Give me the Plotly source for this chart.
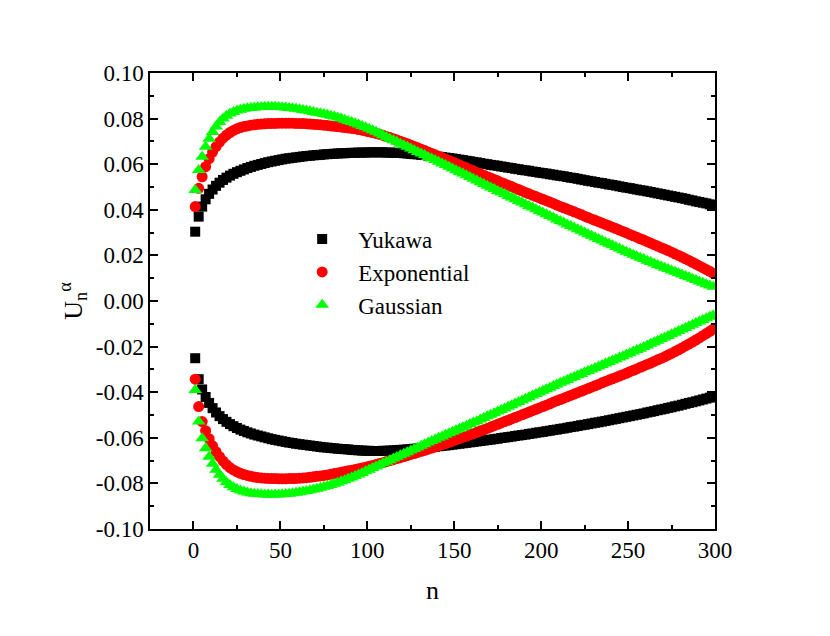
import plotly.graph_objects as go

# n values (every second site)
N = list(range(1, 300, 2))

# Upper branches
YUKAWA_UP = [
    .0304, .0370, .0414, .0446, .0470, .0489, .0505, .0519, .0531, .0541,
    .0550, .0558, .0565, .0571, .0577, .0583, .0588, .0593, .0597, .0601,
    .0605, .0609, .0612, .0615, .0618, .0621, .0624, .0626, .0628, .0630,
    .0632, .0634, .0636, .0637, .0639, .0640, .0641, .0643, .0644, .0645,
    .0646, .0647, .0648, .0648, .0649, .0650, .0650, .0651, .0651, .0651,
    .0652, .0652, .0652, .0652, .0652, .0651, .0651, .0650, .0650, .0649,
    .0648, .0647, .0645, .0644, .0643, .0641, .0640, .0638, .0636, .0635,
    .0633, .0631, .0629, .0627, .0625, .0623, .0620, .0618, .0615, .0613,
    .0610, .0608, .0605, .0602, .0600, .0597, .0595, .0593, .0590, .0588,
    .0585, .0583, .0580, .0578, .0575, .0573, .0571, .0568, .0566, .0563,
    .0561, .0559, .0556, .0554, .0551, .0549, .0547, .0544, .0541, .0539,
    .0536, .0533, .0530, .0527, .0525, .0522, .0519, .0517, .0514, .0511,
    .0509, .0506, .0503, .0500, .0497, .0495, .0492, .0489, .0486, .0484,
    .0481, .0478, .0475, .0472, .0469, .0466, .0463, .0460, .0457, .0454,
    .0451, .0448, .0444, .0441, .0437, .0434, .0431, .0428, .0424, .0421,
]
EXPONENTIAL_UP = [
    .0414, .0494, .0545, .0589, .0624, .0653, .0677, .0697, .0714, .0728,
    .0739, .0748, .0755, .0761, .0765, .0768, .0771, .0773, .0775, .0776,
    .0777, .0778, .0779, .0779, .0780, .0780, .0780, .0780, .0780, .0779,
    .0779, .0778, .0777, .0776, .0775, .0774, .0773, .0771, .0770, .0768,
    .0766, .0765, .0763, .0761, .0759, .0757, .0755, .0752, .0749, .0746,
    .0742, .0739, .0735, .0731, .0727, .0722, .0717, .0712, .0706, .0701,
    .0695, .0690, .0684, .0678, .0672, .0666, .0660, .0654, .0647, .0641,
    .0635, .0629, .0622, .0616, .0610, .0603, .0597, .0590, .0584, .0577,
    .0571, .0564, .0558, .0552, .0545, .0539, .0533, .0527, .0520, .0514,
    .0508, .0502, .0495, .0489, .0483, .0476, .0470, .0464, .0458, .0452,
    .0446, .0440, .0434, .0428, .0421, .0415, .0409, .0403, .0397, .0391,
    .0385, .0379, .0372, .0366, .0360, .0354, .0348, .0342, .0336, .0330,
    .0324, .0318, .0311, .0305, .0299, .0292, .0286, .0280, .0273, .0267,
    .0260, .0254, .0247, .0241, .0234, .0228, .0221, .0214, .0207, .0200,
    .0193, .0185, .0178, .0170, .0162, .0154, .0146, .0138, .0130, .0121,
]
GAUSSIAN_UP = [
    .0487, .0575, .0633, .0677, .0712, .0741, .0765, .0785, .0800, .0812,
    .0822, .0829, .0835, .0839, .0843, .0845, .0847, .0849, .0850, .0851,
    .0852, .0852, .0852, .0852, .0851, .0850, .0849, .0847, .0845, .0843,
    .0841, .0838, .0835, .0832, .0829, .0826, .0823, .0820, .0817, .0813,
    .0809, .0805, .0800, .0795, .0790, .0785, .0780, .0774, .0768, .0762,
    .0756, .0749, .0742, .0735, .0727, .0719, .0712, .0705, .0698, .0690,
    .0683, .0676, .0669, .0661, .0654, .0647, .0640, .0632, .0625, .0618,
    .0611, .0603, .0596, .0589, .0581, .0574, .0566, .0559, .0551, .0544,
    .0536, .0529, .0521, .0513, .0506, .0498, .0491, .0483, .0476, .0469,
    .0461, .0454, .0446, .0439, .0432, .0424, .0417, .0410, .0402, .0395,
    .0388, .0380, .0373, .0366, .0358, .0351, .0344, .0336, .0329, .0322,
    .0315, .0308, .0300, .0293, .0286, .0279, .0272, .0265, .0258, .0251,
    .0244, .0237, .0230, .0223, .0216, .0209, .0203, .0196, .0190, .0184,
    .0177, .0171, .0165, .0158, .0152, .0146, .0140, .0134, .0128, .0122,
    .0116, .0110, .0104, .0098, .0092, .0086, .0080, .0074, .0068, .0062,
]

# Lower branches
YUKAWA_LOW = [
    -.0251, -.0343, -.0388, -.0421, -.0447, -.0470, -.0489, -.0505, -.0518, -.0530,
    -.0540, -.0549, -.0557, -.0564, -.0570, -.0576, -.0581, -.0586, -.0590, -.0594,
    -.0598, -.0602, -.0606, -.0609, -.0612, -.0615, -.0618, -.0621, -.0623, -.0626,
    -.0628, -.0630, -.0632, -.0634, -.0636, -.0638, -.0640, -.0642, -.0643, -.0645,
    -.0646, -.0648, -.0649, -.0650, -.0651, -.0653, -.0654, -.0655, -.0656, -.0657,
    -.0657, -.0658, -.0658, -.0658, -.0657, -.0657, -.0656, -.0655, -.0654, -.0653,
    -.0652, -.0651, -.0650, -.0648, -.0647, -.0645, -.0644, -.0642, -.0641, -.0639,
    -.0637, -.0635, -.0634, -.0632, -.0630, -.0628, -.0626, -.0624, -.0622, -.0620,
    -.0618, -.0616, -.0614, -.0612, -.0610, -.0608, -.0606, -.0604, -.0601, -.0599,
    -.0597, -.0595, -.0592, -.0590, -.0588, -.0586, -.0583, -.0581, -.0578, -.0576,
    -.0574, -.0571, -.0569, -.0566, -.0564, -.0561, -.0559, -.0556, -.0553, -.0551,
    -.0548, -.0545, -.0543, -.0540, -.0537, -.0534, -.0532, -.0529, -.0526, -.0523,
    -.0520, -.0517, -.0514, -.0511, -.0508, -.0505, -.0502, -.0499, -.0496, -.0493,
    -.0489, -.0486, -.0483, -.0479, -.0476, -.0473, -.0469, -.0466, -.0462, -.0459,
    -.0455, -.0451, -.0447, -.0444, -.0440, -.0436, -.0432, -.0428, -.0424, -.0420,
]
EXPONENTIAL_LOW = [
    -.0343, -.0463, -.0529, -.0569, -.0604, -.0635, -.0661, -.0683, -.0702, -.0718,
    -.0731, -.0741, -.0749, -.0756, -.0761, -.0765, -.0769, -.0772, -.0774, -.0776,
    -.0777, -.0778, -.0779, -.0779, -.0780, -.0780, -.0780, -.0779, -.0779, -.0778,
    -.0777, -.0776, -.0775, -.0773, -.0771, -.0769, -.0767, -.0765, -.0763, -.0760,
    -.0757, -.0754, -.0751, -.0748, -.0745, -.0742, -.0739, -.0736, -.0732, -.0729,
    -.0725, -.0721, -.0717, -.0713, -.0709, -.0704, -.0700, -.0696, -.0691, -.0687,
    -.0682, -.0678, -.0673, -.0669, -.0664, -.0659, -.0655, -.0650, -.0645, -.0640,
    -.0635, -.0630, -.0625, -.0620, -.0615, -.0609, -.0604, -.0598, -.0593, -.0587,
    -.0582, -.0576, -.0570, -.0565, -.0559, -.0553, -.0547, -.0541, -.0535, -.0529,
    -.0523, -.0517, -.0511, -.0505, -.0499, -.0493, -.0487, -.0481, -.0475, -.0469,
    -.0463, -.0457, -.0451, -.0444, -.0438, -.0432, -.0426, -.0420, -.0414, -.0408,
    -.0402, -.0396, -.0390, -.0384, -.0378, -.0372, -.0366, -.0359, -.0353, -.0347,
    -.0341, -.0335, -.0329, -.0323, -.0317, -.0310, -.0304, -.0298, -.0291, -.0285,
    -.0278, -.0272, -.0265, -.0258, -.0252, -.0245, -.0237, -.0230, -.0222, -.0214,
    -.0206, -.0197, -.0189, -.0180, -.0171, -.0162, -.0152, -.0143, -.0133, -.0123,
]
GAUSSIAN_LOW = [
    -.0390, -.0529, -.0602, -.0646, -.0683, -.0714, -.0740, -.0762, -.0780, -.0795,
    -.0807, -.0817, -.0825, -.0831, -.0836, -.0840, -.0843, -.0845, -.0847, -.0848,
    -.0849, -.0849, -.0850, -.0849, -.0849, -.0848, -.0847, -.0845, -.0843, -.0841,
    -.0839, -.0836, -.0833, -.0830, -.0827, -.0823, -.0819, -.0815, -.0811, -.0807,
    -.0802, -.0797, -.0791, -.0786, -.0780, -.0774, -.0767, -.0761, -.0754, -.0747,
    -.0740, -.0733, -.0726, -.0719, -.0712, -.0705, -.0698, -.0691, -.0684, -.0677,
    -.0670, -.0663, -.0656, -.0649, -.0642, -.0635, -.0628, -.0621, -.0614, -.0607,
    -.0600, -.0594, -.0587, -.0580, -.0574, -.0567, -.0560, -.0554, -.0547, -.0540,
    -.0533, -.0527, -.0520, -.0513, -.0506, -.0499, -.0492, -.0485, -.0478, -.0471,
    -.0464, -.0457, -.0450, -.0443, -.0436, -.0429, -.0422, -.0415, -.0408, -.0401,
    -.0394, -.0387, -.0380, -.0373, -.0366, -.0359, -.0353, -.0346, -.0339, -.0333,
    -.0326, -.0320, -.0313, -.0307, -.0300, -.0294, -.0287, -.0281, -.0274, -.0268,
    -.0261, -.0255, -.0248, -.0242, -.0235, -.0229, -.0222, -.0215, -.0209, -.0202,
    -.0195, -.0188, -.0181, -.0174, -.0167, -.0160, -.0153, -.0146, -.0139, -.0132,
    -.0125, -.0118, -.0111, -.0104, -.0097, -.0090, -.0083, -.0076, -.0069, -.0062,
]

SERIES_NAMES = ["Yukawa", "Exponential", "Gaussian"]
X_TICKS = [0, 50, 100, 150, 200, 250, 300]
Y_TICKS = [-0.10, -0.08, -0.06, -0.04, -0.02, 0.00, 0.02, 0.04, 0.06, 0.08, 0.10]
Y_TICK_LABELS = ["-0.10", "-0.08", "-0.06", "-0.04", "-0.02", "0.00",
                 "0.02", "0.04", "0.06", "0.08", "0.10"]

styles = [
    dict(color="#000000", symbol="square", size=10),
    dict(color="#FF0000", symbol="circle", size=11),
    dict(color="#00FF00", symbol="triangle-up", size=12),
]
ups = [YUKAWA_UP, EXPONENTIAL_UP, GAUSSIAN_UP]
lows = [YUKAWA_LOW, EXPONENTIAL_LOW, GAUSSIAN_LOW]

FONT = "Liberation Serif"

fig = go.Figure()
for name, st, up, low in zip(SERIES_NAMES, styles, ups, lows):
    mk = dict(color=st["color"], symbol=st["symbol"], size=st["size"], line=dict(width=0))
    fig.add_trace(go.Scatter(x=N, y=up, mode="markers", name=name, marker=mk,
                             legendgroup=name, showlegend=True))
    fig.add_trace(go.Scatter(x=N, y=low, mode="markers", name=name, marker=mk,
                             legendgroup=name, showlegend=False))

axis_common = dict(
    showline=True, linecolor="black", linewidth=1.5, mirror="ticks",
    ticks="inside", ticklen=8, tickwidth=1.5, tickcolor="black",
    showgrid=False, zeroline=False,
    tickfont=dict(family=FONT, size=23, color="black"),
)

fig.update_layout(
    width=830, height=636,
    margin=dict(l=142, r=123, t=65, b=115),
    paper_bgcolor="white", plot_bgcolor="white",
    font=dict(family=FONT, color="black"),
    xaxis=dict(
        range=[-25, 300], tickvals=X_TICKS,
        title=dict(text="n", font=dict(family=FONT, size=26), standoff=18),
        minor=dict(ticks="inside", ticklen=4, tickwidth=1.5, dtick=25, tick0=0, tickcolor="black"),
        **axis_common,
    ),
    yaxis=dict(
        range=[-0.1, 0.1], tickvals=Y_TICKS, ticktext=Y_TICK_LABELS,
        title=dict(text="U<sub>n</sub><sup>α</sup>", font=dict(family=FONT, size=26), standoff=6),
        minor=dict(ticks="inside", ticklen=4, tickwidth=1.5, dtick=0.01, tick0=0, tickcolor="black"),
        **axis_common,
    ),
    legend=dict(
        x=0.241, y=0.683, xanchor="left", yanchor="top",
        bgcolor="rgba(0,0,0,0)", borderwidth=0,
        font=dict(family=FONT, size=23, color="black"),
        tracegroupgap=0, itemwidth=62,
    ),
    showlegend=True,
)

fig.write_html("out.html")
